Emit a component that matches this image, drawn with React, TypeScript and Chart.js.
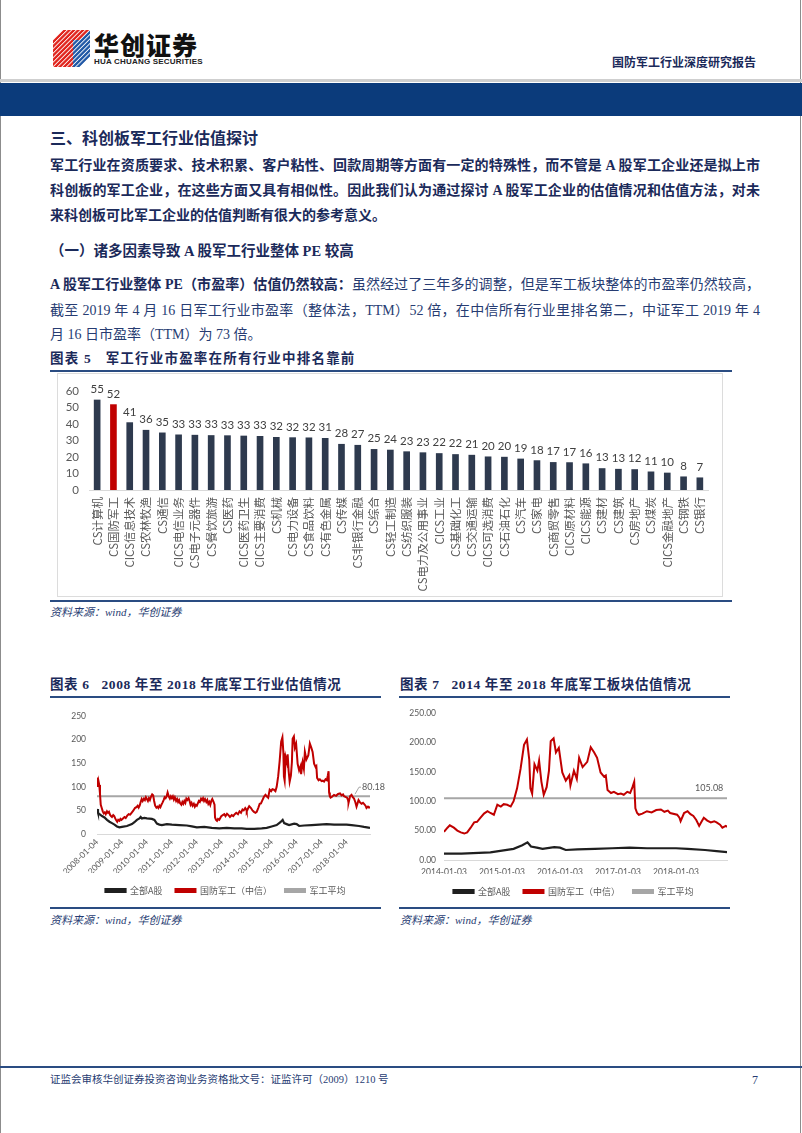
import React, { useEffect, useRef } from "react";
import { Chart, registerables } from "chart.js";
Chart.register(...registerables);

// ---------- Figure 5 data ----------
const industries = [
  "CS计算机", "CS国防军工", "CICS信息技术", "CS农林牧渔", "CS通信", "CICS电信业务", "CS电子元器件",
  "CS餐饮旅游", "CS医药", "CICS医药卫生", "CICS主要消费", "CS机械", "CS电力设备", "CS食品饮料",
  "CS有色金属", "CS传媒", "CS非银行金融", "CS综合", "CS轻工制造", "CS纺织服装", "CS电力及公用事业",
  "CICS工业", "CS基础化工", "CS交通运输", "CICS可选消费", "CS石油石化", "CS汽车", "CS家电",
  "CS商贸零售", "CICS原材料", "CICS能源", "CS建材", "CS建筑", "CS房地产", "CS煤炭", "CICS金融地产",
  "CS钢铁", "CS银行",
];
const peValues = [
  54.5, 51.7, 40.8, 36.2, 34.6, 33.4, 33.2, 33.0, 32.9, 32.7, 32.5, 31.9, 31.7, 31.6,
  31.3, 27.7, 27.1, 24.6, 24.2, 23.2, 22.6, 22.1, 21.5, 21.1, 20.1, 19.9, 18.8, 17.8,
  16.7, 16.6, 15.9, 13.0, 12.6, 12.4, 11.0, 10.3, 8.0, 7.4,
];
const highlightIndustry = "CS国防军工";

// ---------- Figure 6 / 7 data: [year, PE] ----------
const defensePE: [number, number][] = [
  [2008.00, 108], [2008.02, 120], [2008.04, 100], [2008.06, 112], [2008.09, 104], [2008.12, 85], [2008.15, 62],
  [2008.19, 55], [2008.23, 48], [2008.27, 44], [2008.31, 46], [2008.35, 42], [2008.40, 48], [2008.44, 45],
  [2008.48, 47], [2008.52, 41], [2008.56, 38], [2008.60, 36], [2008.65, 40], [2008.69, 38], [2008.73, 33],
  [2008.77, 29], [2008.81, 26], [2008.85, 30], [2008.90, 28], [2008.94, 32], [2008.98, 30],
  [2009.04, 33], [2009.10, 36], [2009.15, 34], [2009.21, 39], [2009.27, 42], [2009.33, 41], [2009.40, 46],
  [2009.46, 50], [2009.52, 55], [2009.58, 57], [2009.63, 60], [2009.67, 56], [2009.71, 60], [2009.75, 68],
  [2009.79, 74], [2009.83, 70], [2009.88, 75], [2009.92, 72], [2009.96, 78],
  [2010.00, 74], [2010.04, 70], [2010.08, 76], [2010.12, 72], [2010.17, 80], [2010.21, 84], [2010.25, 82],
  [2010.29, 70], [2010.33, 60], [2010.38, 56], [2010.42, 58], [2010.46, 55], [2010.50, 60], [2010.54, 57],
  [2010.58, 62], [2010.62, 66], [2010.67, 72], [2010.71, 78], [2010.75, 76], [2010.79, 80], [2010.83, 88],
  [2010.88, 79], [2010.92, 75], [2010.96, 80],
  [2011.00, 76], [2011.04, 80], [2011.08, 73], [2011.12, 78], [2011.17, 70], [2011.21, 74], [2011.25, 68],
  [2011.29, 72], [2011.33, 65], [2011.38, 62], [2011.42, 68], [2011.46, 64], [2011.50, 70], [2011.54, 66],
  [2011.58, 75], [2011.62, 72], [2011.67, 76], [2011.71, 70], [2011.75, 62], [2011.79, 66], [2011.83, 60],
  [2011.88, 64], [2011.92, 58], [2011.96, 62],
  [2012.00, 60], [2012.04, 65], [2012.08, 70], [2012.12, 68], [2012.17, 75], [2012.21, 72], [2012.25, 76],
  [2012.29, 70], [2012.33, 74], [2012.38, 68], [2012.42, 72], [2012.46, 64], [2012.50, 68], [2012.54, 62],
  [2012.58, 70], [2012.62, 74], [2012.67, 68], [2012.71, 62], [2012.73, 35], [2012.77, 30], [2012.81, 28],
  [2012.85, 32], [2012.90, 30], [2012.94, 34], [2012.98, 38],
  [2013.04, 40], [2013.10, 42], [2013.15, 38], [2013.21, 43], [2013.27, 40], [2013.33, 36], [2013.40, 40],
  [2013.46, 38], [2013.52, 42], [2013.58, 45], [2013.65, 42], [2013.71, 48], [2013.77, 45], [2013.83, 52],
  [2013.88, 50], [2013.94, 55], [2013.98, 52],
  [2014.00, 48], [2014.06, 55], [2014.10, 59], [2014.17, 55], [2014.23, 50], [2014.29, 47], [2014.35, 45],
  [2014.40, 47], [2014.46, 55], [2014.52, 64], [2014.57, 65], [2014.63, 72], [2014.69, 79], [2014.75, 83],
  [2014.80, 80], [2014.86, 77], [2014.92, 94], [2014.98, 91],
  [2015.03, 95], [2015.09, 94], [2015.15, 91], [2015.20, 100], [2015.26, 122], [2015.32, 155], [2015.38, 196],
  [2015.43, 205], [2015.47, 171], [2015.49, 122], [2015.52, 113], [2015.56, 163], [2015.61, 152], [2015.64, 169],
  [2015.68, 133], [2015.72, 111], [2015.77, 124], [2015.81, 152], [2015.84, 202], [2015.89, 207], [2015.93, 183],
  [2015.98, 191],
  [2016.04, 149], [2016.10, 135], [2016.16, 144], [2016.18, 127], [2016.24, 152], [2016.29, 138], [2016.33, 174],
  [2016.39, 158], [2016.47, 167], [2016.53, 192], [2016.59, 183], [2016.64, 174], [2016.70, 149], [2016.76, 142],
  [2016.79, 144], [2016.82, 119], [2016.88, 114], [2016.93, 116],
  [2017.00, 112], [2017.05, 113], [2017.10, 111], [2017.16, 116], [2017.21, 114], [2017.25, 124], [2017.28, 133],
  [2017.30, 88], [2017.33, 80], [2017.36, 77], [2017.42, 79], [2017.50, 83], [2017.58, 81], [2017.66, 85],
  [2017.74, 86], [2017.80, 82], [2017.86, 84], [2017.90, 80],
  [2018.02, 77], [2018.06, 72], [2018.08, 66], [2018.14, 80], [2018.20, 83], [2018.25, 78], [2018.30, 75],
  [2018.35, 68], [2018.40, 58], [2018.44, 65], [2018.48, 72], [2018.54, 67], [2018.60, 64], [2018.66, 66],
  [2018.70, 64], [2018.76, 60], [2018.80, 55], [2018.86, 58], [2018.90, 56], [2018.94, 58],
];
const allAPE: [number, number][] = [
  [2008.00, 53], [2008.04, 45], [2008.10, 42], [2008.20, 38], [2008.30, 35], [2008.40, 30], [2008.50, 26],
  [2008.60, 23], [2008.70, 20], [2008.80, 16], [2008.90, 14], [2009.00, 15], [2009.20, 17], [2009.40, 21],
  [2009.50, 25], [2009.60, 30], [2009.70, 33], [2009.75, 36], [2009.80, 33], [2009.90, 34], [2010.00, 33],
  [2010.20, 32], [2010.30, 30], [2010.40, 22], [2010.50, 20], [2010.60, 19], [2010.80, 21], [2011.00, 20],
  [2011.30, 19], [2011.60, 18], [2011.80, 16], [2012.00, 14], [2012.30, 15], [2012.60, 13], [2012.90, 12],
  [2013.20, 13], [2013.50, 12], [2013.80, 12], [2014.00, 11], [2014.30, 11], [2014.60, 12], [2014.80, 13],
  [2015.00, 16], [2015.20, 19], [2015.35, 25], [2015.44, 30], [2015.50, 23], [2015.60, 21], [2015.70, 19],
  [2015.90, 22], [2016.00, 21], [2016.10, 17], [2016.30, 18], [2016.60, 19], [2016.90, 20], [2017.20, 21],
  [2017.50, 20], [2017.80, 20], [2018.00, 20], [2018.20, 19], [2018.50, 17], [2018.70, 15], [2018.94, 13],
];
const avgAll = 80.18;
const avgSince2014 = 105.08;
const fig6Years = [2008, 2009, 2010, 2011, 2012, 2013, 2014, 2015, 2016, 2017, 2018];
const fig6TickLabels = fig6Years.map((y) => `${y}-01-04`);
const fig7Years = [2014, 2015, 2016, 2017, 2018];
const fig7TickLabels = fig7Years.map((y) => `${y}-01-03`);
const legendNames = ["全部A股", "国防军工（中信）", "军工平均"];

// ---------- styles ----------
const NAVY_BAR = "#2e3a4e";
const RED = "#c00000";
const BLACK = "#1f1f1f";
const GRAY = "#a6a6a6";
const TEXT_BOLD = "#1b2a5a";
const TEXT_NORMAL = "#273c72";
const BLUE_LINE = "#2a4c82";
const SERIF = '"Liberation Serif", "Noto Sans CJK SC", serif';
const CJK = '"Noto Sans CJK SC", sans-serif';
const NUM = 'Lato, "Noto Sans CJK SC", sans-serif';

const valueLabelPlugin = {
  id: "valueLabels",
  afterDatasetsDraw(chart: any) {
    const { ctx } = chart;
    const meta = chart.getDatasetMeta(0);
    ctx.save();
    ctx.font = `11.5px ${NUM}`;
    ctx.fillStyle = "#404040";
    ctx.textAlign = "center";
    ctx.textBaseline = "bottom";
    meta.data.forEach((el: any, i: number) => {
      const v = chart.data.datasets[0].data[i];
      ctx.fillText(String(Math.round(v)), el.x, el.y - 5);
    });
    ctx.restore();
  },
};

function avgLabelPlugin(text: string, xVal: number, value: number, dy: number, leader: boolean) {
  return {
    id: "avgLabel",
    afterDatasetsDraw(chart: any) {
      const { ctx, scales } = chart;
      const x = scales.x.getPixelForValue(xVal);
      const lineY = scales.y.getPixelForValue(value);
      const ty = lineY - dy;
      ctx.save();
      if (leader) {
        ctx.strokeStyle = GRAY;
        ctx.lineWidth = 1;
        ctx.beginPath();
        ctx.moveTo(x - 7, lineY - 2);
        ctx.lineTo(x - 3, ty);
        ctx.lineTo(x - 1, ty);
        ctx.stroke();
      }
      ctx.font = `9px ${NUM}`;
      ctx.fillStyle = "#595959";
      ctx.textAlign = "left";
      ctx.textBaseline = "middle";
      ctx.fillText(text, x, ty);
      ctx.restore();
    },
  };
}

function lineChartConfig(opts: {
  minX: number; maxX: number; years: number[]; tickLabels: string[]; rotation: number;
  avg: number; yDecimals: number; yWidth: number; yPad: number; xHeight: number; xPad: number;
  padTop: number; rightSpace: number; plugin: any;
}) {
  const inRange = (p: [number, number]) => p[0] >= opts.minX - 1e-9;
  const tickFont = { family: NUM, size: 8.5 };
  return {
    type: "line" as const,
    data: {
      datasets: [
        { label: legendNames[0], data: allAPE.filter(inRange).map(([x, y]) => ({ x, y })), borderColor: BLACK, backgroundColor: BLACK, borderWidth: 2.2, pointRadius: 0, tension: 0 },
        { label: legendNames[1], data: defensePE.filter(inRange).map(([x, y]) => ({ x, y })), borderColor: RED, backgroundColor: RED, borderWidth: 2, pointRadius: 0, tension: 0 },
        { label: legendNames[2], data: [{ x: opts.minX, y: opts.avg }, { x: opts.maxX, y: opts.avg }], borderColor: GRAY, backgroundColor: GRAY, borderWidth: 2, pointRadius: 0 },
      ],
    },
    options: {
      animation: false,
      responsive: false,
      maintainAspectRatio: false,
      layout: { padding: { top: opts.padTop, right: 0, left: 0, bottom: 0 } },
      plugins: {
        legend: {
          position: "bottom",
          maxHeight: 23,
          labels: { boxWidth: 20, boxHeight: 3, padding: 13, color: "#595959", font: { family: CJK, size: 9 } },
        },
        tooltip: { enabled: false },
      },
      scales: {
        x: {
          type: "linear",
          min: opts.minX,
          max: opts.maxX,
          afterBuildTicks: (s: any) => { s.ticks = opts.years.map((v) => ({ value: v })); },
          ticks: {
            autoSkip: false,
            minRotation: opts.rotation,
            maxRotation: opts.rotation,
            padding: opts.xPad,
            color: "#595959",
            font: tickFont,
            callback: (_v: any, i: number) => opts.tickLabels[i],
          },
          grid: { display: false, drawTicks: false },
          border: { display: true, color: "#d9d9d9" },
          afterFit: (s: any) => { s.height = opts.xHeight; },
        },
        y: {
          min: 0,
          max: 250,
          ticks: { autoSkip: false, stepSize: 50, padding: opts.yPad, color: "#595959", font: tickFont, callback: (v: any) => Number(v).toFixed(opts.yDecimals) },
          grid: { display: false, drawTicks: false },
          border: { display: false },
          afterFit: (s: any) => { s.width = opts.yWidth; },
        },
        // empty right-hand spacer axis: keeps the plot narrow while the legend spans the full canvas
        spacer: {
          type: "linear",
          position: "right",
          min: 0,
          max: 1,
          ticks: { display: false },
          grid: { display: false, drawTicks: false },
          border: { display: false },
          afterFit: (s: any) => { s.width = opts.rightSpace; },
        },
      },
    },
    plugins: [opts.plugin],
  };
}

const abs = (left: number, top: number, extra: React.CSSProperties = {}): React.CSSProperties => ({
  position: "absolute", left, top, ...extra,
});

function TextLine({ top, children, justify = false, size = 14, bold = false, color = TEXT_BOLD, left = 50, width = 710, italic = false, spacing = 0 }: any) {
  return (
    <div
      style={{
        position: "absolute", left, top: top - 11, width, height: 22, lineHeight: "22px",
        fontFamily: SERIF, fontSize: size, fontWeight: bold ? 700 : 400, color,
        fontStyle: italic ? "italic" : "normal", letterSpacing: spacing,
        whiteSpace: justify ? "normal" : "nowrap",
        textAlign: justify ? "justify" : "left",
        textAlignLast: justify ? "justify" : "auto",
        overflow: "visible",
      } as React.CSSProperties}
    >
      {children}
    </div>
  );
}

function HLine({ left, top, width, height = 2, color = BLUE_LINE }: any) {
  return <div style={abs(left, top, { width, height, background: color })} />;
}

export default function App() {
  const barRef = useRef<HTMLCanvasElement>(null);
  const c6Ref = useRef<HTMLCanvasElement>(null);
  const c7Ref = useRef<HTMLCanvasElement>(null);

  useEffect(() => {
    const charts: Chart[] = [];
    if (barRef.current) {
      charts.push(new Chart(barRef.current, {
        type: "bar",
        data: {
          labels: industries,
          datasets: [{
            data: peValues,
            backgroundColor: industries.map((n) => (n === highlightIndustry ? RED : NAVY_BAR)),
            barThickness: 6,
          }],
        },
        options: {
          animation: false,
          responsive: false,
          maintainAspectRatio: false,
          layout: { padding: { top: 13, right: 14, left: 0, bottom: 0 } },
          plugins: { legend: { display: false }, tooltip: { enabled: false } },
          scales: {
            x: {
              grid: { display: false, drawTicks: false },
              border: { display: true, color: "#d9d9d9" },
              ticks: { autoSkip: false, minRotation: 90, maxRotation: 90, padding: 7, color: "#595959", font: { family: CJK, size: 11.5 } },
              afterFit: (s: any) => { s.height = 106; },
            },
            y: {
              min: 0, max: 60,
              ticks: { autoSkip: false, stepSize: 10, padding: 10, color: "#595959", font: { family: NUM, size: 11.5 } },
              grid: { display: false, drawTicks: false },
              border: { display: false },
              afterFit: (s: any) => { s.width = 31; },
            },
          },
        } as any,
        plugins: [valueLabelPlugin],
      }));
    }
    if (c6Ref.current) {
      charts.push(new Chart(c6Ref.current, lineChartConfig({
        minX: 2008, maxX: 2018.94, years: fig6Years, tickLabels: fig6TickLabels, rotation: 45,
        avg: avgAll, yDecimals: 0, yWidth: 52, yPad: 11, xHeight: 39, xPad: 3, padTop: 12, rightSpace: 36,
        plugin: avgLabelPlugin(avgAll.toFixed(2), 2018.62, avgAll, 9, true),
      }) as any));
    }
    if (c7Ref.current) {
      charts.push(new Chart(c7Ref.current, lineChartConfig({
        minX: 2014, maxX: 2018.88, years: fig7Years, tickLabels: fig7TickLabels, rotation: 0,
        avg: avgSince2014, yDecimals: 2, yWidth: 49, yPad: 8, xHeight: 14, xPad: 7, padTop: 9, rightSpace: 25,
        plugin: avgLabelPlugin(avgSince2014.toFixed(2), 2018.33, avgSince2014, 10.5, false),
      }) as any));
    }
    return () => charts.forEach((c) => c.destroy());
  }, []);

  return (
    <div style={{ position: "absolute", left: 0, top: 0, width: 802, height: 1133, background: "#fff", overflow: "hidden" }}>
      {/* page side borders */}
      <div style={abs(0, 0, { width: 1, height: 1133, background: "#8c8c8c" })} />
      <div style={abs(800, 0, { width: 1, height: 1133, background: "#8c8c8c" })} />

      {/* logo */}
      <svg width="38" height="37" viewBox="0 0 38 37" style={abs(53, 30)}>
        <defs>
          <pattern id="sr" width="3.2" height="3.2" patternUnits="userSpaceOnUse" patternTransform="rotate(45)">
            <rect width="3.2" height="3.2" fill="#e0221b" />
            <rect width="0.9" height="3.2" fill="#fff" />
          </pattern>
          <pattern id="sb" width="3.2" height="3.2" patternUnits="userSpaceOnUse" patternTransform="rotate(45)">
            <rect width="3.2" height="3.2" fill="#1f57a5" />
            <rect width="0.9" height="3.2" fill="#fff" />
          </pattern>
        </defs>
        <polygon points="0,10 10,0 37,0 27,10" fill="url(#sr)" />
        <polygon points="0,10 20,10 20,37 0,37" fill="url(#sr)" />
        <polygon points="20,10 27,10 37,0 37,27 27,37 20,37" fill="url(#sb)" />
      </svg>
      <div style={abs(94, 30, { fontFamily: CJK, fontWeight: 900, fontSize: 25, lineHeight: "28px", color: "#111", letterSpacing: 1 })}>华创证券</div>
      <div style={abs(94, 57, { fontFamily: '"Liberation Sans", Arial, sans-serif', fontWeight: 700, fontSize: 8, lineHeight: "10px", color: "#222", letterSpacing: 0.2 })}>HUA CHUANG SECURITIES</div>
      <div style={abs(612, 54, { fontFamily: SERIF, fontWeight: 700, fontSize: 12, lineHeight: "18px", color: TEXT_BOLD })}>国防军工行业深度研究报告</div>

      {/* header bars */}
      <div style={abs(0, 79, { width: 802, height: 3, background: "#cfcfcf" })} />
      <div style={abs(0, 83, { width: 802, height: 33, background: "#0b3b7b" })} />

      {/* section text */}
      <TextLine top={139} size={16} bold>三、科创板军工行业估值探讨</TextLine>
      <TextLine top={166} bold justify>军工行业在资质要求、技术积累、客户粘性、回款周期等方面有一定的特殊性，而不管是 A 股军工企业还是拟上市</TextLine>
      <TextLine top={191} bold justify>科创板的军工企业，在这些方面又具有相似性。因此我们认为通过探讨 A 股军工企业的估值情况和估值方法，对未</TextLine>
      <TextLine top={216} bold>来科创板可比军工企业的估值判断有很大的参考意义。</TextLine>
      <TextLine top={251} bold size={14.5}>（一）诸多因素导致 A 股军工行业整体 PE 较高</TextLine>
      <TextLine top={285} justify color={TEXT_NORMAL}>
        <span style={{ fontWeight: 700, color: TEXT_BOLD }}>A 股军工行业整体 PE（市盈率）估值仍然较高：</span>虽然经过了三年多的调整，但是军工板块整体的市盈率仍然较高，
      </TextLine>
      <TextLine top={311} justify color={TEXT_NORMAL}>截至 2019 年 4 月 16 日军工行业市盈率（整体法，TTM）52 倍，在中信所有行业里排名第二，中证军工 2019 年 4</TextLine>
      <TextLine top={335} color={TEXT_NORMAL}>月 16 日市盈率（TTM）为 73 倍。</TextLine>

      {/* Figure 5 */}
      <TextLine top={359} bold size={13.5} spacing={1.2}>图表 5&nbsp;&nbsp; 军工行业市盈率在所有行业中排名靠前</TextLine>
      <HLine left={50} top={370} width={682} />
      <div style={abs(57, 373, { width: 666, height: 224, border: "1px solid #dcdcdc", boxSizing: "border-box" })} />
      <canvas ref={barRef} width={664} height={222} style={abs(58, 374, { width: 664, height: 222 })} />
      <HLine left={50} top={600} width={682} />
      <TextLine top={612} italic size={11} color={TEXT_NORMAL}>资料来源：wind，华创证券</TextLine>

      {/* Figure 6 */}
      <TextLine top={685} bold size={13.5} spacing={0.6}>图表 6&nbsp;&nbsp; 2008 年至 2018 年底军工行业估值情况</TextLine>
      <HLine left={50} top={696} width={331} />
      <canvas ref={c6Ref} width={361} height={196} style={abs(45, 700, { width: 361, height: 196 })} />
      <HLine left={50} top={907} width={331} />
      <TextLine top={920} italic size={11} color={TEXT_NORMAL}>资料来源：wind，华创证券</TextLine>

      {/* Figure 7 */}
      <TextLine top={685} left={400} bold size={13.5} spacing={0.6}>图表 7&nbsp;&nbsp; 2014 年至 2018 年底军工板块估值情况</TextLine>
      <HLine left={399} top={696} width={331} />
      <canvas ref={c7Ref} width={357} height={197} style={abs(395, 700, { width: 357, height: 197 })} />
      <HLine left={399} top={907} width={331} />
      <TextLine top={920} left={400} italic size={11} color={TEXT_NORMAL}>资料来源：wind，华创证券</TextLine>

      {/* footer */}
      <HLine left={0} top={1066} width={802} />
      <TextLine top={1080} size={10.5} color={TEXT_NORMAL}>证监会审核华创证券投资咨询业务资格批文号：证监许可（2009）1210 号</TextLine>
      <TextLine top={1080} left={752} size={12} color={TEXT_NORMAL} width={20}>7</TextLine>
    </div>
  );
}
